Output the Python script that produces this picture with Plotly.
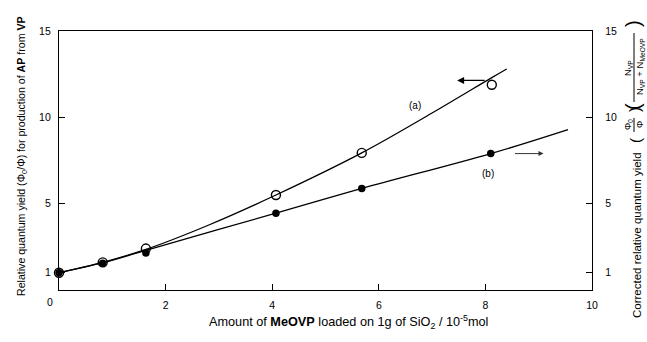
import plotly.graph_objects as go

# ---- data ----
a_x = [0.0, 0.82, 1.63, 4.07, 5.68, 8.12]
a_y = [1.0, 1.6, 2.4, 5.5, 7.94, 11.89]
b_x = [0.0, 0.82, 1.63, 4.07, 5.68, 8.10]
b_y = [1.0, 1.55, 2.15, 4.45, 5.88, 7.9]

curve_a_x = [0.0, 0.82, 1.63, 2.8, 4.07, 5.68, 7.0, 8.12, 8.4]
curve_a_y = [1.0, 1.6, 2.35, 3.75, 5.5, 7.94, 10.25, 12.3, 12.8]
curve_b_x = [0.0, 0.82, 1.63, 4.07, 5.68, 8.10, 9.55]
curve_b_y = [1.0, 1.58, 2.3, 4.45, 5.88, 7.9, 9.29]

x_ticks = [2, 4, 6, 8, 10]
y_ticks = [1, 5, 10, 15]

W, H = 647, 342
L, R, T, B = 59, 592, 31, 290
FONT = "Liberation Sans, Arial, sans-serif"


def P(px, py):
    return (px - L) / (R - L), (B - py) / (B - T)


fig = go.Figure()
fig.add_trace(go.Scatter(x=curve_a_x, y=curve_a_y, mode="lines",
                         line=dict(color="black", width=1.3, shape="spline"),
                         showlegend=False, hoverinfo="skip"))
fig.add_trace(go.Scatter(x=curve_b_x, y=curve_b_y, mode="lines",
                         line=dict(color="black", width=1.3, shape="spline"),
                         showlegend=False, hoverinfo="skip"))
fig.add_trace(go.Scatter(x=a_x, y=a_y, mode="markers", cliponaxis=False,
                         marker=dict(symbol="circle-open", size=9, color="black",
                                     line=dict(width=1.4, color="black")),
                         showlegend=False))
fig.add_trace(go.Scatter(x=b_x, y=b_y, mode="markers", cliponaxis=False,
                         marker=dict(symbol="circle", size=7.5, color="black"),
                         showlegend=False))
# invisible trace to activate right axis
fig.add_trace(go.Scatter(x=[0], y=[0], yaxis="y2", mode="markers",
                         marker=dict(opacity=0), showlegend=False, hoverinfo="skip"))

axis_common = dict(showline=True, linecolor="black", linewidth=1.3,
                   ticks="inside", tickcolor="black", ticklen=6, tickwidth=1.3,
                   showgrid=False, zeroline=False,
                   tickfont=dict(family=FONT, size=10.5, color="black"))

fig.update_layout(
    width=W, height=H,
    margin=dict(l=L, r=W - R, t=T, b=H - B),
    paper_bgcolor="white", plot_bgcolor="white",
    font=dict(family=FONT, size=10, color="black"),
    xaxis=dict(range=[0, 10], tickvals=x_ticks, mirror=True,
               ticklabelstandoff=5, **axis_common),
    yaxis=dict(range=[0, 15], tickvals=y_ticks, mirror=False,
               ticklabelstandoff=5, **axis_common),
    yaxis2=dict(range=[0, 15], tickvals=y_ticks, overlaying="y", side="right",
                ticklabelstandoff=10, **axis_common),
)

ann = []
# shared "0" at the corner
x0, y0 = P(50, 302)
ann.append(dict(x=x0, y=y0, xref="paper", yref="paper", text="0", showarrow=False,
                font=dict(size=10.5), xanchor="center", yanchor="middle"))
# x axis title
xt, yt = P(348, 322)
ann.append(dict(x=xt, y=yt, xref="paper", yref="paper", showarrow=False,
                text="Amount of <b>MeOVP</b> loaded on 1g of SiO<sub>2</sub> / 10<sup>-5</sup>mol",
                font=dict(size=12.7), xanchor="center", yanchor="middle"))
# left y title
xl, yl = P(22, 156)
ann.append(dict(x=xl, y=yl, xref="paper", yref="paper", showarrow=False, textangle=-90,
                text="Relative quantum yield (Φ<sub>0</sub>/Φ) for production of <b>AP</b> from <b>VP</b>",
                font=dict(size=10.6), xanchor="center", yanchor="middle"))


# right y title pieces
def rt(px, py, text, size=10):
    x, y = P(px, py)
    ann.append(dict(x=x, y=y, xref="paper", yref="paper", showarrow=False, textangle=-90,
                    text=text, font=dict(size=size), xanchor="center", yanchor="middle",
                    borderpad=0))


rt(637, 235, "Corrected relative quantum yield", 11.5)
# small fraction Φ0/Φ
rt(635, 141, "(", 15)
rt(628, 125, "Φ<sub>0</sub>", 9)
rt(640, 125, "Φ", 9)
rt(635, 110, ")", 15)
# big fraction N_VP / (N_VP + N_MeOVP)
rt(633, 107, "(", 20)
rt(628, 68, "N<sub>VP</sub>", 9.5)
rt(640, 67, "N<sub>VP</sub> + N<sub>MeOVP</sub>", 9.5)
rt(633, 24, ")", 20)

shapes = []
fx, fy1 = P(634, 132)
_, fy2 = P(634, 118)
shapes.append(dict(type="line", xref="paper", yref="paper", x0=fx, x1=fx, y0=fy1, y1=fy2,
                   line=dict(color="black", width=1)))
fx, fy1 = P(634, 102)
_, fy2 = P(634, 33)
shapes.append(dict(type="line", xref="paper", yref="paper", x0=fx, x1=fx, y0=fy1, y1=fy2,
                   line=dict(color="black", width=1)))

# curve labels and arrows
ann.append(dict(x=6.68, y=10.7, xref="x", yref="y", text="(a)", showarrow=False,
                font=dict(size=10)))
ann.append(dict(x=8.04, y=6.75, xref="x", yref="y", text="(b)", showarrow=False,
                font=dict(size=10)))
ann.append(dict(x=7.47, y=12.14, xref="x", yref="y", text="", showarrow=True,
                ax=29, ay=0, arrowhead=2, arrowsize=1, arrowwidth=1.4, arrowcolor="black"))
ann.append(dict(x=9.09, y=7.9, xref="x", yref="y", text="", showarrow=True,
                ax=-30, ay=0, arrowhead=2, arrowsize=1, arrowwidth=1, arrowcolor="#333"))

fig.update_layout(annotations=ann, shapes=shapes)
fig.write_html("out.html")
